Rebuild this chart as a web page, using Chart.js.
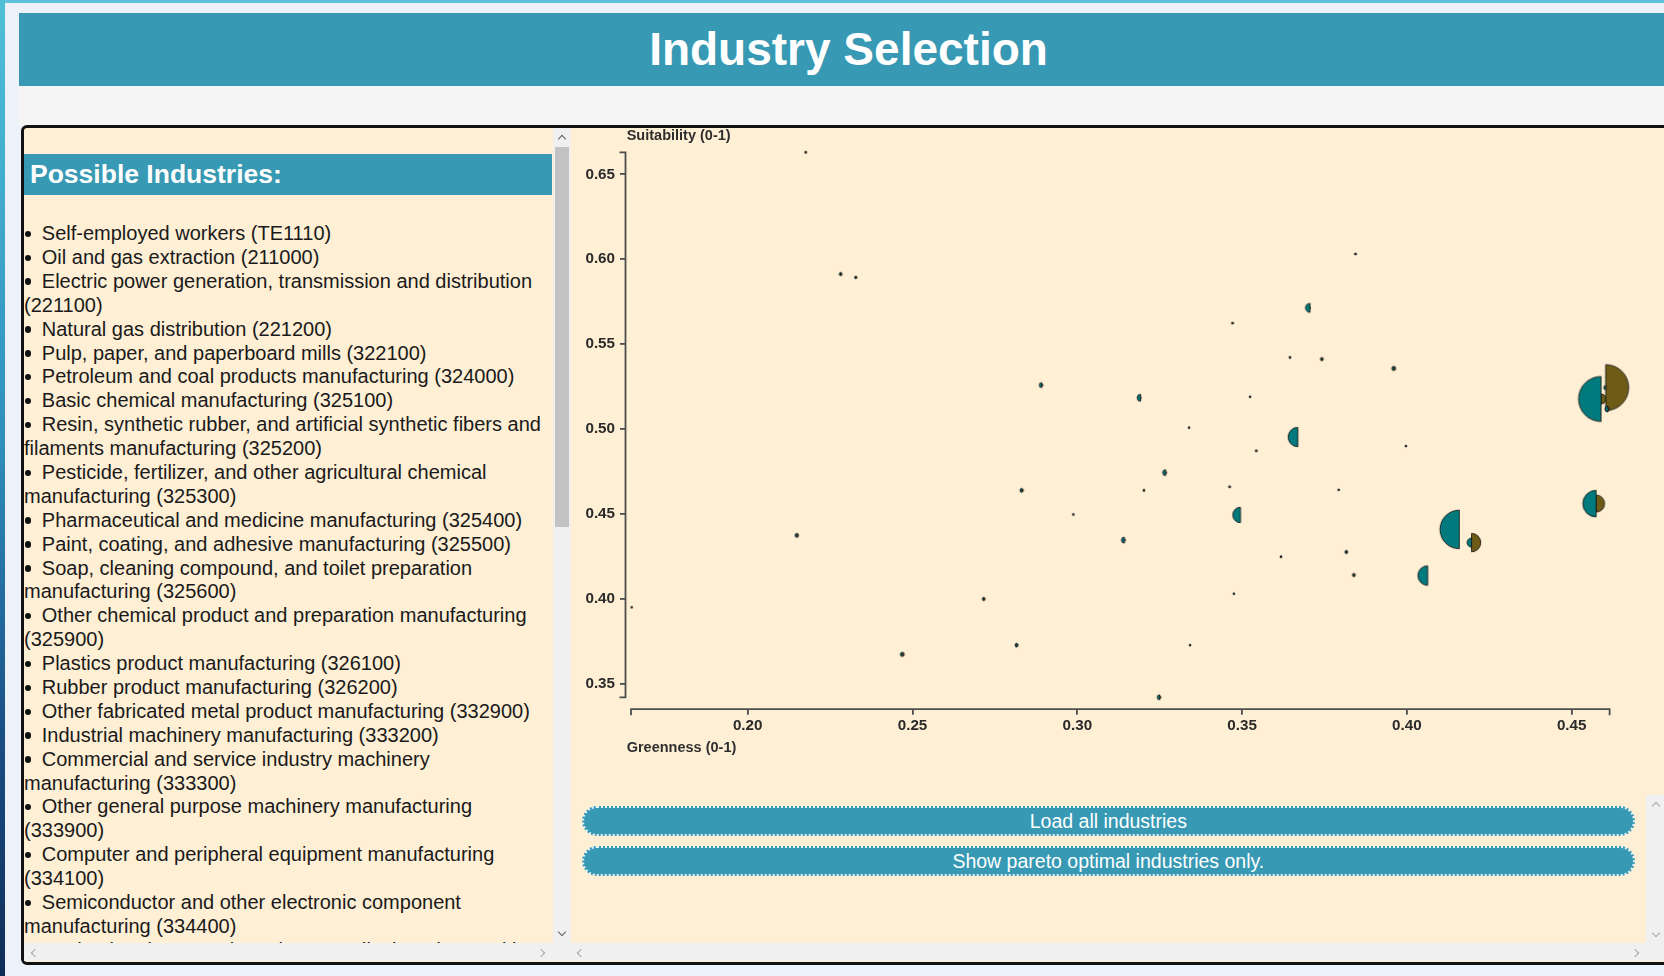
<!DOCTYPE html>
<html>
<head>
<meta charset="utf-8">
<script src="https://cdn.jsdelivr.net/npm/chart.js@4.4.1/dist/chart.umd.min.js"></script>
<style>
html,body{margin:0;padding:0;width:1664px;height:976px;overflow:hidden;background:#edf2fa;font-family:"Liberation Sans",Arial,sans-serif;}
.abs{position:absolute;}
#leftstrip{left:0;top:0;width:5px;height:976px;background:linear-gradient(#4fc0d8,#2f8fbf 45%,#1a4f86 75%,#0f2c57);}
#topstrip{left:0;top:0;width:1664px;height:3px;background:#5cc3d8;}
#band{left:18px;top:86px;width:1680px;height:40px;background:#f5f5f5;}
#header{left:19px;top:13.3px;width:1659px;height:72.7px;background:#3799b3;color:#fff;font-weight:bold;font-size:46px;line-height:72.7px;text-align:center;white-space:nowrap;}
#panel{left:21px;top:124.5px;width:1700px;height:840px;box-sizing:border-box;border:3px solid #111;border-radius:6px;background:#ffefd5;}
#leftpane{left:24px;top:127.5px;width:529px;height:815.5px;overflow:hidden;}
#pihead{position:absolute;left:0;top:26.8px;width:528px;height:41px;background:#3799b3;color:#fff;font-weight:bold;font-size:26.5px;line-height:41px;padding-left:6px;box-sizing:border-box;white-space:nowrap;}
#list{position:absolute;left:0;top:94.6px;width:560px;font-size:20px;line-height:23.9px;color:#1a1a1a;}
#list div{white-space:nowrap;height:23.9px;}
#list div.b{position:relative;padding-left:17.8px;}
#list div.b::before{content:'';position:absolute;left:0.6px;top:8.6px;width:6.4px;height:6.4px;border-radius:50%;background:#111;}
.track{background:#f0f0f0;}
.thumb{background:#c2c2c2;}
.chev{position:absolute;width:5px;height:5px;border-top:1.6px solid #606060;border-left:1.6px solid #606060;}
.chev.light{border-color:#a8a8a8;}
.btn{position:absolute;left:581.7px;width:1053.3px;height:30px;box-sizing:border-box;border:2px dotted rgba(255,255,255,0.9);border-radius:15px;background:#3799b3;color:#fff;font-size:19.5px;line-height:26px;text-align:center;white-space:nowrap;}
.axtitle{position:absolute;font-weight:bold;font-size:14.5px;color:#2e2e2e;white-space:nowrap;line-height:16.2px;}
#chart{position:absolute;left:570px;top:127px;}
</style>
</head>
<body>
<div id="topstrip" class="abs"></div>
<div id="leftstrip" class="abs"></div>
<div id="band" class="abs"></div>
<div id="header" class="abs">Industry Selection</div>
<div id="panel" class="abs"></div>

<div id="leftpane" class="abs">
  <div id="pihead">Possible Industries:</div>
  <div id="list"></div>
</div>

<!-- left pane vertical scrollbar -->
<div class="abs track" style="left:553px;top:127.5px;width:18px;height:815.5px;"></div>
<div class="abs thumb" style="left:555px;top:146.7px;width:14px;height:380px;"></div>
<div class="chev" style="left:559px;top:136px;transform:rotate(45deg);"></div>
<div class="chev" style="left:559px;top:929px;transform:rotate(225deg);"></div>
<!-- bottom horizontal scrollbars -->
<div class="abs track" style="left:24px;top:943.3px;width:1640px;height:17.7px;"></div>
<div class="chev light" style="left:32px;top:949.5px;transform:rotate(-45deg);"></div>
<div class="chev light" style="left:538px;top:949.5px;transform:rotate(135deg);"></div>
<div class="chev light" style="left:578px;top:949.5px;transform:rotate(-45deg);"></div>
<div class="chev light" style="left:1632px;top:949.5px;transform:rotate(135deg);"></div>
<!-- right pane small vertical scrollbar -->
<div class="abs track" style="left:1646px;top:795px;width:18px;height:148.3px;"></div>
<div class="chev light" style="left:1652.5px;top:803px;transform:rotate(45deg);"></div>
<div class="chev light" style="left:1652.5px;top:930px;transform:rotate(225deg);"></div>

<canvas id="chart" width="1076" height="640"></canvas>
<div class="axtitle" style="left:626.7px;top:127.4px;">Suitability (0-1)</div>
<div class="axtitle" style="left:626.7px;top:738.9px;">Greenness (0-1)</div>

<div class="btn" style="top:806px;">Load all industries</div>
<div class="btn" style="top:846px;">Show pareto optimal industries only.</div>

<script>
// ---------------- DATA ----------------
const industryLines = [
  ["b","Self-employed workers (TE1110)"],
  ["b","Oil and gas extraction (211000)"],
  ["b","Electric power generation, transmission and distribution"],
  ["c","(221100)"],
  ["b","Natural gas distribution (221200)"],
  ["b","Pulp, paper, and paperboard mills (322100)"],
  ["b","Petroleum and coal products manufacturing (324000)"],
  ["b","Basic chemical manufacturing (325100)"],
  ["b","Resin, synthetic rubber, and artificial synthetic fibers and"],
  ["c","filaments manufacturing (325200)"],
  ["b","Pesticide, fertilizer, and other agricultural chemical"],
  ["c","manufacturing (325300)"],
  ["b","Pharmaceutical and medicine manufacturing (325400)"],
  ["b","Paint, coating, and adhesive manufacturing (325500)"],
  ["b","Soap, cleaning compound, and toilet preparation"],
  ["c","manufacturing (325600)"],
  ["b","Other chemical product and preparation manufacturing"],
  ["c","(325900)"],
  ["b","Plastics product manufacturing (326100)"],
  ["b","Rubber product manufacturing (326200)"],
  ["b","Other fabricated metal product manufacturing (332900)"],
  ["b","Industrial machinery manufacturing (333200)"],
  ["b","Commercial and service industry machinery"],
  ["c","manufacturing (333300)"],
  ["b","Other general purpose machinery manufacturing"],
  ["c","(333900)"],
  ["b","Computer and peripheral equipment manufacturing"],
  ["c","(334100)"],
  ["b","Semiconductor and other electronic component"],
  ["c","manufacturing (334400)"],
  ["b","Navigational, measuring, electromedical, and control instruments"],
  ["c","manufacturing (334500)"]
];

const greenness = [0.2176,0.2282,0.2328,0.3844,0.3706,0.3471,0.3645,0.3742,0.3960,0.2892,
  0.3192,0.3524,0.3339,0.3669,0.3543,0.3997,0.3268,0.2832,0.3202,0.3462,
  0.3793,0.2988,0.3495,0.3143,0.3618,0.3816,0.3839,0.3475,0.2716,0.2817,
  0.3342,0.3250,0.2149,0.1648,0.2469,0.4063,0.4159,0.4196,0.4574,0.4589,
  0.4603,0.4610];
const suitability = [0.663,0.5913,0.5893,0.6031,0.5714,0.5624,0.5422,0.5412,0.5357,0.5259,
  0.5184,0.5190,0.5008,0.4953,0.4872,0.4900,0.4743,0.4639,0.4639,0.4660,
  0.4642,0.4497,0.4494,0.4346,0.4248,0.4276,0.4140,0.4030,0.3999,0.3727,
  0.3727,0.3420,0.4374,0.3950,0.3673,0.4137,0.4409,0.4331,0.4561,0.5177,
  0.5244,0.5118];
// left (teal) and right (olive) half-marker metrics (area-proportional)
const leftMetric = [1,2.25,1.44,1,20.25,1,1,2.25,4,6.25,
  12.25,0.81,0.81,94.1,1,0.81,9,4,1,1,
  0.81,0.81,59.3,9,1,2.25,2.25,0.81,2.25,4,
  0.81,6.25,3.24,0.64,4,96,372.5,20.25,176.9,506.25,
  4,9];
const rightMetric = [1,2.25,1.44,1,0.36,1,1,2.25,4,1.44,
  0.36,0.81,0.81,0,1,0.81,1,2.25,1,1,
  0.81,0.81,0,1,1,2.25,2.25,0.81,2.25,1.44,
  0.81,1.44,3.24,0.64,4,0,0,84.6,72.25,25,
  529,2.25];

const xTickValues = [0.20,0.25,0.30,0.35,0.40,0.45];
const xTickLabels = ["0.20","0.25","0.30","0.35","0.40","0.45"];
const yTickValues = [0.35,0.40,0.45,0.50,0.55,0.60,0.65];
const yTickLabels = ["0.35","0.40","0.45","0.50","0.55","0.60","0.65"];
const xDomain = [0.1646, 0.4615];
const yDomain = [0.342, 0.663];

// ---------------- LIST ----------------
const listEl = document.getElementById('list');
industryLines.forEach(([kind, text]) => {
  const d = document.createElement('div');
  if (kind === 'b') d.className = 'b';
  d.textContent = text;
  listEl.appendChild(d);
});

// ---------------- CHART ----------------
const TEAL = '#007a7c';
const OLIVE = '#6e5c16';
const radiusOf = v => Math.sqrt(v);
const cache = {};
function halfCanvas(r, side, fill) {
  const key = side + r.toFixed(3) + fill;
  if (cache[key]) return cache[key];
  const size = Math.ceil(2 * r + 4);
  const c = document.createElement('canvas');
  c.width = size; c.height = size;
  const g = c.getContext('2d');
  const cx = size / 2, cy = size / 2;
  g.beginPath();
  if (side === 'left') g.arc(cx, cy, r, Math.PI / 2, Math.PI * 1.5);
  else g.arc(cx, cy, r, -Math.PI / 2, Math.PI / 2);
  g.closePath();
  g.fillStyle = fill; g.fill();
  g.lineWidth = 1; g.strokeStyle = 'rgba(25,25,25,0.9)'; g.stroke();
  cache[key] = c;
  return c;
}

const points = greenness.map((g, i) => ({x: g, y: suitability[i]}));

const domainPlugin = {
  id: 'domain',
  beforeDatasetsDraw(chart) {
    const {ctx, scales: {x, y}, chartArea} = chart;
    ctx.save();
    ctx.strokeStyle = '#4d4d4d';
    ctx.lineWidth = 1.8;
    const ax = chartArea.left - 0.5;
    const y0 = y.getPixelForValue(yDomain[1]), y1 = y.getPixelForValue(yDomain[0]);
    ctx.beginPath();
    ctx.moveTo(ax - 6, y0); ctx.lineTo(ax, y0); ctx.lineTo(ax, y1); ctx.lineTo(ax - 6, y1);
    ctx.stroke();
    const ay = chartArea.bottom + 0.5;
    const x0 = x.getPixelForValue(xDomain[0]), x1 = x.getPixelForValue(xDomain[1]);
    ctx.beginPath();
    ctx.moveTo(x0, ay + 6); ctx.lineTo(x0, ay); ctx.lineTo(x1, ay); ctx.lineTo(x1, ay + 6);
    ctx.stroke();
    ctx.restore();
  }
};

const tickFont = {family: '"Liberation Sans", Arial, sans-serif', size: 15.2, weight: 'bold'};

new Chart(document.getElementById('chart'), {
  type: 'scatter',
  data: {
    datasets: [
      {
        label: 'left',
        data: points,
        clip: false,
        pointRadius: ctx => radiusOf(leftMetric[ctx.dataIndex]),
        pointStyle: ctx => {
          const r = radiusOf(leftMetric[ctx.dataIndex]);
          return r > 0 ? halfCanvas(r, 'left', TEAL) : 'circle';
        }
      },
      {
        label: 'right',
        data: points,
        clip: false,
        pointRadius: ctx => radiusOf(rightMetric[ctx.dataIndex]),
        pointStyle: ctx => {
          const r = radiusOf(rightMetric[ctx.dataIndex]);
          return r > 0 ? halfCanvas(r, 'right', OLIVE) : 'circle';
        }
      }
    ]
  },
  options: {
    responsive: false,
    animation: false,
    devicePixelRatio: 1,
    events: [],
    layout: {padding: {left: 0, top: 25.3, right: 36.3, bottom: 18.3}},
    plugins: {legend: {display: false}, tooltip: {enabled: false}},
    scales: {
      x: {
        type: 'linear',
        min: 0.163076,
        max: 0.461529,
        afterBuildTicks: s => { s.ticks = xTickValues.map(v => ({value: v})); },
        afterFit: s => { s.height = 40; },
        grid: {drawOnChartArea: false, drawTicks: true, tickLength: 6, color: '#4d4d4d', lineWidth: 1.8},
        border: {display: false},
        ticks: {autoSkip: false, maxRotation: 0, padding: 2, font: tickFont, color: '#2a2a2a',
                callback: (v, i) => xTickLabels[i]}
      },
      y: {
        type: 'linear',
        min: 0.33528,
        max: 0.663,
        afterBuildTicks: s => { s.ticks = yTickValues.map(v => ({value: v})); },
        afterFit: s => { s.width = 56; },
        grid: {drawOnChartArea: false, drawTicks: true, tickLength: 6, color: '#4d4d4d', lineWidth: 1.8},
        border: {display: false},
        ticks: {autoSkip: false, padding: 5, font: tickFont, color: '#2a2a2a',
                callback: (v, i) => yTickLabels[i]}
      }
    }
  },
  plugins: [domainPlugin]
});
</script>
</body>
</html>
